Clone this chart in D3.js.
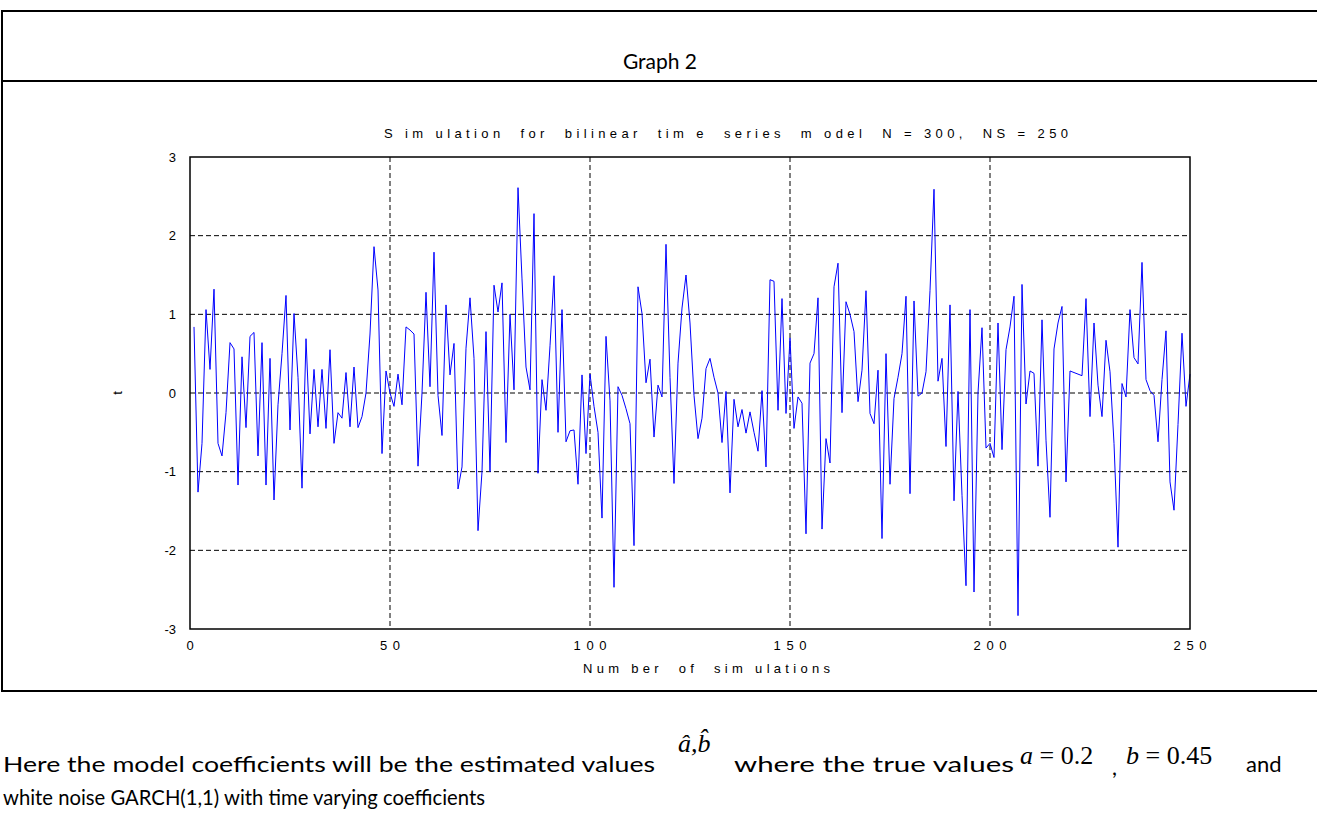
<!DOCTYPE html>
<html>
<head>
<meta charset="utf-8">
<script src="https://cdn.jsdelivr.net/npm/d3@7"></script>
<style>
  body { margin: 0; background: #fff; }
  svg { display: block; }
  .tick text { font-family: "Liberation Sans", Arial, sans-serif; font-size: 13px; fill: #000; }
  .doc { font-family: Lato, "Open Sans", sans-serif; font-size: 22px; fill: #000; }
  .math { font-family: "Liberation Serif", "Times New Roman", serif; fill: #000; }
  .mlab { font-family: "Liberation Sans", Arial, sans-serif; font-size: 13px; fill: #000; }
</style>
</head>
<body>
<div id="plot"></div>
<script>
const WIDTH = 1317;
const HEIGHT = 818;

// simulated series, index 1..250
const series = [
  0.84, -1.26, -0.64, 1.06, 0.30, 1.32, -0.64, -0.80, -0.25, 0.64, 0.56, -1.17, 0.46, -0.44, 0.72, 0.77, -0.80, 0.64, -1.17, 0.44, -1.36, -0.15, 0.50, 1.24, -0.47,
  1.01, 0.20, -1.21, 0.69, -0.52, 0.30, -0.43, 0.30, -0.45, 0.55, -0.64, -0.25, -0.32, 0.26, -0.43, 0.33, -0.44, -0.30, 0.00, 0.75, 1.86, 1.31, -0.77, 0.28, 0.00,
  -0.17, 0.24, -0.15, 0.84, 0.80, 0.75, -0.93, 0.00, 1.28, 0.08, 1.79, -0.03, -0.54, 1.12, 0.23, 0.63, -1.22, -0.94, 0.57, 1.21, 0.44, -1.75, -1.00, 0.78, -1.00,
  1.37, 1.03, 1.40, -0.63, 1.00, 0.04, 2.61, 1.45, 0.33, 0.04, 2.28, -1.02, 0.17, -0.22, 0.60, 1.49, -0.50, 1.06, -0.62, -0.48, -0.47, -1.16, 0.23, -0.77, 0.24,
  -0.17, -0.50, -1.59, 0.72, -0.10, -2.47, 0.08, -0.03, -0.20, -0.39, -1.94, 1.35, 1.01, 0.13, 0.43, -0.56, 0.10, -0.05, 1.89, 0.20, -1.15, 0.38, 1.08, 1.50, 0.89,
  -0.03, -0.58, -0.32, 0.31, 0.44, 0.20, 0.00, -0.63, 0.02, -1.27, -0.08, -0.43, -0.21, -0.51, -0.24, -0.50, -0.74, 0.03, -0.94, 1.44, 1.42, -0.22, 1.20, -0.26, 0.70,
  -0.45, -0.05, -0.13, -1.79, 0.38, 0.50, 1.21, -1.73, -0.58, -0.89, 1.35, 1.65, -0.25, 1.16, 1.00, 0.78, -0.11, 0.29, 1.30, -0.26, -0.39, 0.29, -1.85, 0.50, -1.16,
  -0.07, 0.20, 0.50, 1.23, -1.28, 1.17, -0.04, 0.00, 0.27, 1.30, 2.59, 0.15, 0.44, -0.68, 1.12, -1.37, 0.02, -1.30, -2.45, 1.06, -2.53, 0.00, 0.83, -0.70, -0.64,
  -0.82, 0.89, -0.72, 0.55, 0.84, 1.23, -2.83, 1.38, -0.14, 0.28, 0.25, -0.93, 0.93, -0.60, -1.58, 0.56, 0.89, 1.10, -1.13, 0.28, 0.26, 0.24, 0.22, 1.20, -0.30,
  0.89, 0.10, -0.30, 0.67, 0.27, -0.64, -1.96, 0.12, -0.05, 1.06, 0.45, 0.37, 1.66, 0.17, 0.03, -0.03, -0.62, 0.17, 0.79, -1.13, -1.49, -0.40, 0.76, -0.17, 0.24
];

const xTicks = [0, 50, 100, 150, 200, 250];
const yTicks = [-3, -2, -1, 0, 1, 2, 3];

const PLOT = {left: 190, right: 1190, top: 157, bottom: 629};

const svg = d3.select("#plot")
  .append("svg")
    .attr("width", WIDTH)
    .attr("height", HEIGHT);

// document frame lines
svg.append("line").attr("x1", 2).attr("x2", WIDTH).attr("y1", 11).attr("y2", 11)
  .attr("stroke", "#000").attr("stroke-width", 2);
svg.append("line").attr("x1", 2).attr("x2", 2).attr("y1", 10).attr("y2", 692)
  .attr("stroke", "#000").attr("stroke-width", 2);
svg.append("line").attr("x1", 2).attr("x2", WIDTH).attr("y1", 81).attr("y2", 81)
  .attr("stroke", "#000").attr("stroke-width", 2);
svg.append("line").attr("x1", 2).attr("x2", WIDTH).attr("y1", 691).attr("y2", 691)
  .attr("stroke", "#000").attr("stroke-width", 2);

svg.append("text").attr("class", "doc")
  .attr("x", 660).attr("y", 69).attr("text-anchor", "middle")
  .style("font-size", "21px")
  .text("Graph 2");

const X_SCALE = d3.scaleLinear().domain([0, 250]).range([PLOT.left, PLOT.right]);
const Y_SCALE = d3.scaleLinear().domain([-3, 3]).range([PLOT.bottom, PLOT.top]);

// grid
svg.append("g")
  .selectAll("line")
  .data(xTicks.slice(1, -1))
  .enter().append("line")
    .attr("x1", d => X_SCALE(d)).attr("x2", d => X_SCALE(d))
    .attr("y1", PLOT.top).attr("y2", PLOT.bottom)
    .attr("stroke", "#000").attr("stroke-dasharray", "5,3").attr("stroke-width", 1);
svg.append("g")
  .selectAll("line")
  .data(yTicks.slice(1, -1))
  .enter().append("line")
    .attr("x1", PLOT.left).attr("x2", PLOT.right)
    .attr("y1", d => Y_SCALE(d)).attr("y2", d => Y_SCALE(d))
    .attr("stroke", "#000").attr("stroke-dasharray", "5,3").attr("stroke-width", 1);

// series
const line = d3.line()
  .x((d, i) => X_SCALE(i + 1))
  .y(d => Y_SCALE(d));
svg.append("path")
  .datum(series)
  .attr("d", line)
  .attr("fill", "none")
  .attr("stroke", "#0000ff")
  .attr("stroke-width", 1);

// box
svg.append("rect")
  .attr("x", PLOT.left).attr("y", PLOT.top)
  .attr("width", PLOT.right - PLOT.left).attr("height", PLOT.bottom - PLOT.top)
  .attr("fill", "none").attr("stroke", "#000").attr("stroke-width", 1.5);

// axes
const xAxis = svg.append("g")
  .attr("transform", "translate(0," + PLOT.bottom + ")")
  .call(d3.axisBottom(X_SCALE).tickValues(xTicks).tickSize(0).tickPadding(12)
    .tickFormat(d => String(d).split("").join(" ")));
xAxis.select(".domain").remove();
xAxis.selectAll("text").attr("xml:space", "preserve").style("letter-spacing", "1px");

const yAxis = svg.append("g")
  .attr("transform", "translate(" + PLOT.left + ",0)")
  .call(d3.axisLeft(Y_SCALE).tickValues(yTicks).tickSize(0).tickPadding(14)
    .tickFormat(d => String(d)));
yAxis.select(".domain").remove();

// titles (MATLAB-style spaced glyphs)
svg.append("text").attr("class", "mlab")
  .attr("x", 384).attr("y", 138)
  .attr("xml:space", "preserve")
  .attr("textLength", 684).attr("lengthAdjust", "spacing")
  .text("S im ulation  for  bilinear  tim e  series  m odel  N = 300,  NS = 250");

svg.append("text").attr("class", "mlab")
  .attr("x", 583).attr("y", 673)
  .attr("xml:space", "preserve")
  .attr("textLength", 247).attr("lengthAdjust", "spacing")
  .text("Num ber  of  sim ulations");

svg.append("text").attr("class", "mlab")
  .attr("transform", "translate(122," + Y_SCALE(0) + ") rotate(-90)")
  .attr("text-anchor", "middle")
  .text("t");

// paragraph under the chart
svg.append("text").attr("class", "doc").attr("x", 3).attr("y", 772)
  .attr("textLength", 652).attr("lengthAdjust", "spacingAndGlyphs")
  .text("Here the model coefficients will be the estimated values");

const hat = svg.append("text").attr("class", "math").attr("x", 678).attr("y", 752)
  .attr("font-size", 26).attr("font-style", "italic");
hat.append("tspan").text("\u00e2,");
hat.append("tspan").text("b\u0302");

svg.append("text").attr("class", "doc").attr("x", 734).attr("y", 772)
  .attr("textLength", 280).attr("lengthAdjust", "spacingAndGlyphs")
  .text("where the true values");

const eqA = svg.append("text").attr("class", "math").attr("x", 1020).attr("y", 764).attr("font-size", 26);
eqA.append("tspan").attr("font-style", "italic").text("a");
eqA.append("tspan").text(" = 0.2");
svg.append("text").attr("class", "doc").attr("x", 1112).attr("y", 775).text(",");
const eqB = svg.append("text").attr("class", "math").attr("x", 1126).attr("y", 764).attr("font-size", 26);
eqB.append("tspan").attr("font-style", "italic").text("b");
eqB.append("tspan").text(" = 0.45");
svg.append("text").attr("class", "doc").attr("x", 1246).attr("y", 772).text("and");

svg.append("text").attr("class", "doc").attr("x", 3).attr("y", 805)
  .attr("textLength", 482).attr("lengthAdjust", "spacingAndGlyphs")
  .text("white noise GARCH(1,1) with time varying coefficients");
</script>
</body>
</html>
